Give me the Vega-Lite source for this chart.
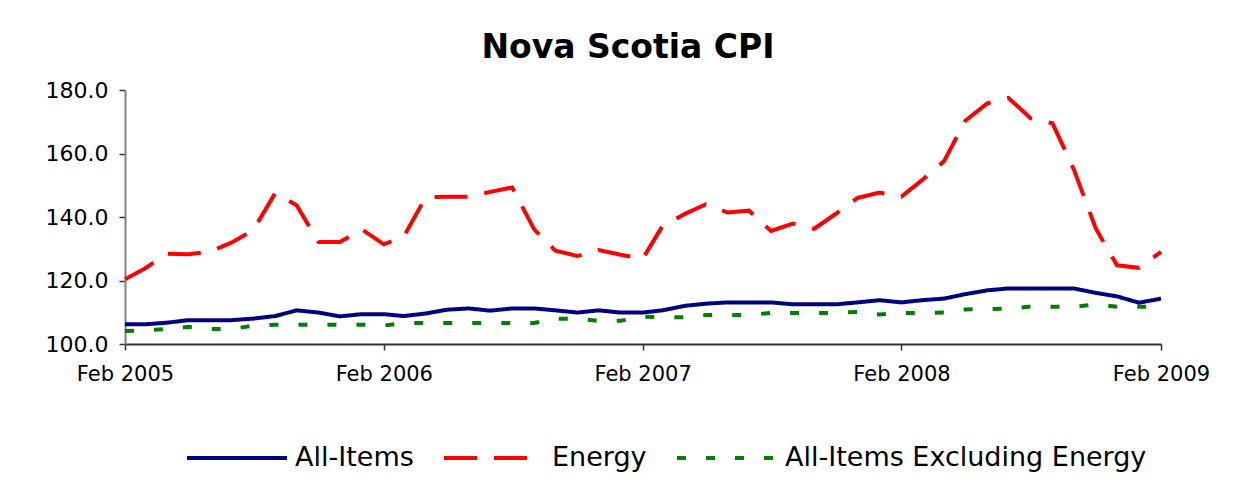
{
  "$schema": "https://vega.github.io/schema/vega-lite/v6.json",
  "width": 1036,
  "height": 254,
  "autosize": {"type": "none"},
  "padding": {"left": 125, "top": 90, "right": 74, "bottom": 155},
  "background": "white",
  "title": {"text": "Nova Scotia CPI", "font": "DejaVu Sans", "fontSize": 33, "fontWeight": "bold", "color": "black", "anchor": "middle", "dx": -15, "offset": 14},
  "config": {"view": {"stroke": null}},
  "data": {"values": [
    {"date":"2005-02-01","series":"All-Items","value":106.2},
    {"date":"2005-03-01","series":"All-Items","value":106.2},
    {"date":"2005-04-01","series":"All-Items","value":106.7},
    {"date":"2005-05-01","series":"All-Items","value":107.5},
    {"date":"2005-06-01","series":"All-Items","value":107.5},
    {"date":"2005-07-01","series":"All-Items","value":107.5},
    {"date":"2005-08-01","series":"All-Items","value":108.0},
    {"date":"2005-09-01","series":"All-Items","value":108.8},
    {"date":"2005-10-01","series":"All-Items","value":110.6},
    {"date":"2005-11-01","series":"All-Items","value":109.9},
    {"date":"2005-12-01","series":"All-Items","value":108.7},
    {"date":"2006-01-01","series":"All-Items","value":109.4},
    {"date":"2006-02-01","series":"All-Items","value":109.4},
    {"date":"2006-03-01","series":"All-Items","value":108.8},
    {"date":"2006-04-01","series":"All-Items","value":109.6},
    {"date":"2006-05-01","series":"All-Items","value":110.8},
    {"date":"2006-06-01","series":"All-Items","value":111.2},
    {"date":"2006-07-01","series":"All-Items","value":110.5},
    {"date":"2006-08-01","series":"All-Items","value":111.2},
    {"date":"2006-09-01","series":"All-Items","value":111.2},
    {"date":"2006-10-01","series":"All-Items","value":110.6},
    {"date":"2006-11-01","series":"All-Items","value":109.9},
    {"date":"2006-12-01","series":"All-Items","value":110.6},
    {"date":"2007-01-01","series":"All-Items","value":109.9},
    {"date":"2007-02-01","series":"All-Items","value":109.9},
    {"date":"2007-03-01","series":"All-Items","value":110.6},
    {"date":"2007-04-01","series":"All-Items","value":112.0},
    {"date":"2007-05-01","series":"All-Items","value":112.7},
    {"date":"2007-06-01","series":"All-Items","value":113.1},
    {"date":"2007-07-01","series":"All-Items","value":113.1},
    {"date":"2007-08-01","series":"All-Items","value":113.1},
    {"date":"2007-09-01","series":"All-Items","value":112.5},
    {"date":"2007-10-01","series":"All-Items","value":112.5},
    {"date":"2007-11-01","series":"All-Items","value":112.5},
    {"date":"2007-12-01","series":"All-Items","value":113.1},
    {"date":"2008-01-01","series":"All-Items","value":113.8},
    {"date":"2008-02-01","series":"All-Items","value":113.1},
    {"date":"2008-03-01","series":"All-Items","value":113.8},
    {"date":"2008-04-01","series":"All-Items","value":114.3},
    {"date":"2008-05-01","series":"All-Items","value":115.7},
    {"date":"2008-06-01","series":"All-Items","value":116.9},
    {"date":"2008-07-01","series":"All-Items","value":117.5},
    {"date":"2008-08-01","series":"All-Items","value":117.5},
    {"date":"2008-09-01","series":"All-Items","value":117.5},
    {"date":"2008-10-01","series":"All-Items","value":117.5},
    {"date":"2008-11-01","series":"All-Items","value":116.1},
    {"date":"2008-12-01","series":"All-Items","value":115.0},
    {"date":"2009-01-01","series":"All-Items","value":113.0},
    {"date":"2009-02-01","series":"All-Items","value":114.3},
    {"date":"2005-02-01","series":"Energy","value":120.4},
    {"date":"2005-03-01","series":"Energy","value":123.8},
    {"date":"2005-04-01","series":"Energy","value":128.4},
    {"date":"2005-05-01","series":"Energy","value":128.3},
    {"date":"2005-06-01","series":"Energy","value":129.1},
    {"date":"2005-07-01","series":"Energy","value":131.9},
    {"date":"2005-08-01","series":"Energy","value":135.9},
    {"date":"2005-09-01","series":"Energy","value":147.6},
    {"date":"2005-10-01","series":"Energy","value":143.7},
    {"date":"2005-11-01","series":"Energy","value":132.1},
    {"date":"2005-12-01","series":"Energy","value":132.1},
    {"date":"2006-01-01","series":"Energy","value":136.1},
    {"date":"2006-02-01","series":"Energy","value":131.4},
    {"date":"2006-03-01","series":"Energy","value":133.8},
    {"date":"2006-04-01","series":"Energy","value":146.2},
    {"date":"2006-05-01","series":"Energy","value":146.4},
    {"date":"2006-06-01","series":"Energy","value":146.4},
    {"date":"2006-07-01","series":"Energy","value":147.9},
    {"date":"2006-08-01","series":"Energy","value":149.3},
    {"date":"2006-09-01","series":"Energy","value":136.1},
    {"date":"2006-10-01","series":"Energy","value":129.4},
    {"date":"2006-11-01","series":"Energy","value":127.7},
    {"date":"2006-12-01","series":"Energy","value":129.6},
    {"date":"2007-01-01","series":"Energy","value":128.1},
    {"date":"2007-02-01","series":"Energy","value":126.8},
    {"date":"2007-03-01","series":"Energy","value":137.2},
    {"date":"2007-04-01","series":"Energy","value":140.9},
    {"date":"2007-05-01","series":"Energy","value":144.0},
    {"date":"2007-06-01","series":"Energy","value":141.4},
    {"date":"2007-07-01","series":"Energy","value":142.0},
    {"date":"2007-08-01","series":"Energy","value":135.6},
    {"date":"2007-09-01","series":"Energy","value":137.9},
    {"date":"2007-10-01","series":"Energy","value":136.3},
    {"date":"2007-11-01","series":"Energy","value":141.1},
    {"date":"2007-12-01","series":"Energy","value":146.0},
    {"date":"2008-01-01","series":"Energy","value":147.7},
    {"date":"2008-02-01","series":"Energy","value":146.4},
    {"date":"2008-03-01","series":"Energy","value":151.6},
    {"date":"2008-04-01","series":"Energy","value":157.6},
    {"date":"2008-05-01","series":"Energy","value":170.3},
    {"date":"2008-06-01","series":"Energy","value":175.8},
    {"date":"2008-07-01","series":"Energy","value":177.5},
    {"date":"2008-08-01","series":"Energy","value":171.1},
    {"date":"2008-09-01","series":"Energy","value":169.5},
    {"date":"2008-10-01","series":"Energy","value":155.0},
    {"date":"2008-11-01","series":"Energy","value":136.4},
    {"date":"2008-12-01","series":"Energy","value":124.8},
    {"date":"2009-01-01","series":"Energy","value":124.0},
    {"date":"2009-02-01","series":"Energy","value":129.0},
    {"date":"2005-02-01","series":"All-Items Excluding Energy","value":104.1},
    {"date":"2005-03-01","series":"All-Items Excluding Energy","value":104.3},
    {"date":"2005-04-01","series":"All-Items Excluding Energy","value":104.7},
    {"date":"2005-05-01","series":"All-Items Excluding Energy","value":105.4},
    {"date":"2005-06-01","series":"All-Items Excluding Energy","value":104.7},
    {"date":"2005-07-01","series":"All-Items Excluding Energy","value":104.7},
    {"date":"2005-08-01","series":"All-Items Excluding Energy","value":105.8},
    {"date":"2005-09-01","series":"All-Items Excluding Energy","value":106.1},
    {"date":"2005-10-01","series":"All-Items Excluding Energy","value":106.1},
    {"date":"2005-11-01","series":"All-Items Excluding Energy","value":106.1},
    {"date":"2005-12-01","series":"All-Items Excluding Energy","value":106.1},
    {"date":"2006-01-01","series":"All-Items Excluding Energy","value":106.1},
    {"date":"2006-02-01","series":"All-Items Excluding Energy","value":105.8},
    {"date":"2006-03-01","series":"All-Items Excluding Energy","value":106.6},
    {"date":"2006-04-01","series":"All-Items Excluding Energy","value":106.6},
    {"date":"2006-05-01","series":"All-Items Excluding Energy","value":106.6},
    {"date":"2006-06-01","series":"All-Items Excluding Energy","value":106.6},
    {"date":"2006-07-01","series":"All-Items Excluding Energy","value":106.6},
    {"date":"2006-08-01","series":"All-Items Excluding Energy","value":106.6},
    {"date":"2006-09-01","series":"All-Items Excluding Energy","value":106.6},
    {"date":"2006-10-01","series":"All-Items Excluding Energy","value":108.0},
    {"date":"2006-11-01","series":"All-Items Excluding Energy","value":107.9},
    {"date":"2006-12-01","series":"All-Items Excluding Energy","value":107.3},
    {"date":"2007-01-01","series":"All-Items Excluding Energy","value":107.3},
    {"date":"2007-02-01","series":"All-Items Excluding Energy","value":108.6},
    {"date":"2007-03-01","series":"All-Items Excluding Energy","value":108.5},
    {"date":"2007-04-01","series":"All-Items Excluding Energy","value":108.4},
    {"date":"2007-05-01","series":"All-Items Excluding Energy","value":109.1},
    {"date":"2007-06-01","series":"All-Items Excluding Energy","value":109.1},
    {"date":"2007-07-01","series":"All-Items Excluding Energy","value":109.1},
    {"date":"2007-08-01","series":"All-Items Excluding Energy","value":109.8},
    {"date":"2007-09-01","series":"All-Items Excluding Energy","value":109.8},
    {"date":"2007-10-01","series":"All-Items Excluding Energy","value":109.8},
    {"date":"2007-11-01","series":"All-Items Excluding Energy","value":109.8},
    {"date":"2007-12-01","series":"All-Items Excluding Energy","value":110.1},
    {"date":"2008-01-01","series":"All-Items Excluding Energy","value":109.3},
    {"date":"2008-02-01","series":"All-Items Excluding Energy","value":109.8},
    {"date":"2008-03-01","series":"All-Items Excluding Energy","value":109.8},
    {"date":"2008-04-01","series":"All-Items Excluding Energy","value":109.9},
    {"date":"2008-05-01","series":"All-Items Excluding Energy","value":110.9},
    {"date":"2008-06-01","series":"All-Items Excluding Energy","value":111.0},
    {"date":"2008-07-01","series":"All-Items Excluding Energy","value":111.1},
    {"date":"2008-08-01","series":"All-Items Excluding Energy","value":111.8},
    {"date":"2008-09-01","series":"All-Items Excluding Energy","value":111.7},
    {"date":"2008-10-01","series":"All-Items Excluding Energy","value":111.7},
    {"date":"2008-11-01","series":"All-Items Excluding Energy","value":112.5},
    {"date":"2008-12-01","series":"All-Items Excluding Energy","value":111.7},
    {"date":"2009-01-01","series":"All-Items Excluding Energy","value":111.7},
    {"date":"2009-02-01","series":"All-Items Excluding Energy","value":111.8}
  ]},
  "mark": {"type": "line", "strokeWidth": 4, "clip": false},
  "encoding": {
    "x": {
      "field": "date", "type": "temporal",
      "scale": {"type": "utc", "domain": [{"year": 2005, "month": 2, "date": 1, "utc": true}, {"year": 2009, "month": 2, "date": 1, "utc": true}], "nice": false},
      "axis": {
        "title": null,
        "values": [
          {"year": 2005, "month": 2, "date": 1, "utc": true},
          {"year": 2006, "month": 2, "date": 1, "utc": true},
          {"year": 2007, "month": 2, "date": 1, "utc": true},
          {"year": 2008, "month": 2, "date": 1, "utc": true},
          {"year": 2009, "month": 2, "date": 1, "utc": true}
        ],
        "labelExpr": "utcFormat(datum.value, '%b %Y')",
        "labelFont": "DejaVu Sans", "labelFontSize": 21, "labelColor": "black",
        "labelPadding": 13, "labelFlush": false, "labelOverlap": false,
        "domainColor": "#333333", "domainWidth": 2,
        "tickColor": "#333333", "tickWidth": 1.5, "tickSize": 6,
        "grid": false
      }
    },
    "y": {
      "field": "value", "type": "quantitative",
      "scale": {"domain": [100, 180], "nice": false, "zero": false},
      "axis": {
        "title": null,
        "values": [100, 120, 140, 160, 180],
        "format": ".1f",
        "labelFont": "DejaVu Sans", "labelFontSize": 22, "labelColor": "black",
        "labelPadding": 11,
        "domainColor": "#808080", "domainWidth": 2,
        "tickColor": "#333333", "tickWidth": 1.5, "tickSize": 6,
        "grid": false
      }
    },
    "stroke": {
      "field": "series", "type": "nominal",
      "scale": {"domain": ["All-Items", "Energy", "All-Items Excluding Energy"], "range": ["#000080", "#FF0000", "#008000"]},
      "legend": {
        "title": null, "orient": "none", "direction": "horizontal", "columns": 3,
        "legendX": 60, "legendY": 316,
        "symbolType": "stroke", "symbolSize": 10000, "symbolStrokeWidth": 4,
        "labelFont": "DejaVu Sans", "labelFontSize": 27, "labelColor": "black",
        "labelOffset": 6, "columnPadding": 22, "labelLimit": 600
      }
    },
    "strokeDash": {
      "field": "series", "type": "nominal",
      "scale": {"domain": ["All-Items", "Energy", "All-Items Excluding Energy"], "range": [[1, 0], [33, 17], [9, 20]]},
      "legend": {
        "title": null, "orient": "none", "direction": "horizontal", "columns": 3,
        "legendX": 60, "legendY": 316,
        "symbolType": "stroke", "symbolSize": 10000, "symbolStrokeWidth": 4,
        "labelFont": "DejaVu Sans", "labelFontSize": 27, "labelColor": "black",
        "labelOffset": 6, "columnPadding": 22, "labelLimit": 600
      }
    }
  }
}
